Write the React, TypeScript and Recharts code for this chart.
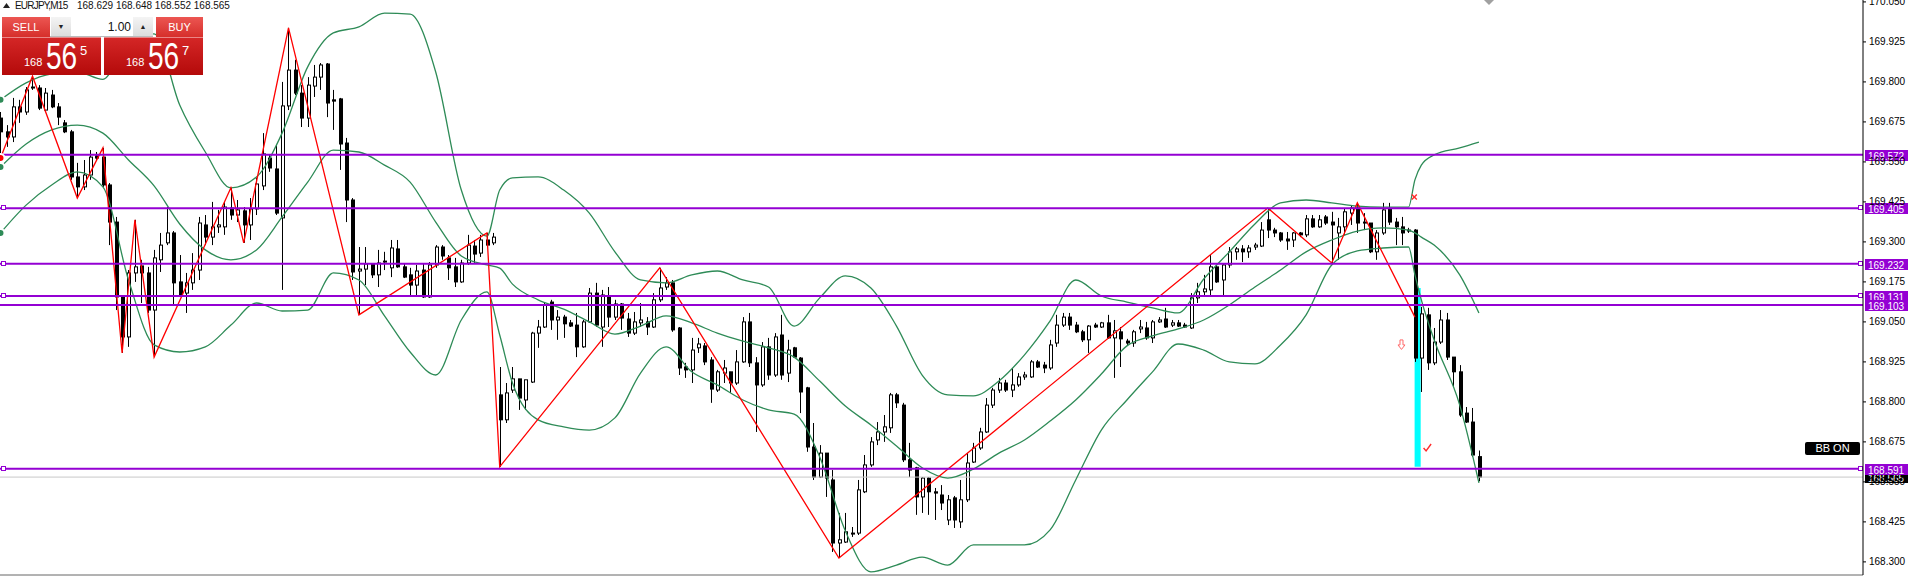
import React from 'react';
import {
  ComposedChart,
  Bar,
  Line,
  XAxis,
  YAxis,
  ReferenceLine,
  ReferenceArea,
  ReferenceDot,
} from 'recharts';

// ── EURJPY M15 bars ───────────────────────────────────────────────
const opens = [
  169.687, 169.644, 169.628, 169.722, 169.706, 169.781, 169.781, 169.712, 169.759, 169.722,
  169.672, 169.644, 169.503, 169.472, 169.509, 169.569, 169.565, 169.478, 169.362, 169.128,
  169.003, 169.203, 169.225, 169.203, 169.087, 169.244, 169.297, 169.328, 169.175, 169.14,
  169.172, 169.212, 169.353, 169.315, 169.347, 169.347, 169.406, 169.384, 169.397, 169.353,
  169.403, 169.475, 169.562, 169.528, 169.375, 169.725, 169.837, 169.765, 169.687, 169.787,
  169.815, 169.856, 169.744, 169.747, 169.609, 169.431, 169.209, 169.215, 169.231, 169.197,
  169.237, 169.219, 169.278, 169.222, 169.197, 169.165, 169.212, 169.128, 169.228, 169.284,
  169.25, 169.222, 169.175, 169.234, 169.287, 169.265, 169.306, 169.297, 168.822, 168.744,
  168.837, 168.872, 168.806, 168.862, 169.015, 169.034, 169.112, 169.056, 169.065, 169.047,
  169.04, 168.972, 169.05, 169.14, 169.034, 169.131, 169.065, 169.106, 169.059, 169.015,
  169.047, 169.05, 169.034, 169.119, 169.159, 169.172, 169.031, 168.909, 168.9, 168.969,
  168.975, 168.931, 168.837, 168.89, 168.894, 168.859, 168.925, 169.05, 168.922, 168.853,
  168.972, 168.884, 169.009, 168.89, 168.969, 168.937, 168.844, 168.659, 168.565, 168.64,
  168.556, 168.359, 168.362, 168.39, 168.39, 168.519, 168.603, 168.681, 168.706, 168.719,
  168.822, 168.79, 168.619, 168.594, 168.503, 168.562, 168.519, 168.509, 168.431, 168.5,
  168.425, 168.494, 168.612, 168.656, 168.706, 168.79, 168.837, 168.859, 168.837, 168.853,
  168.878, 168.878, 168.925, 168.915, 168.906, 168.984, 169.04, 169.065, 169.04, 169.019,
  168.994, 169.04, 169.034, 169.047, 169.0, 169.019, 168.99, 168.984, 169.028, 169.031,
  169.0, 169.05, 169.059, 169.04, 169.047, 169.04, 169.031, 169.125, 169.144, 169.15,
  169.222, 169.181, 169.228, 169.269, 169.278, 169.269, 169.284, 169.287, 169.369, 169.337,
  169.328, 169.309, 169.306, 169.328, 169.322, 169.372, 169.347, 169.378, 169.362, 169.328,
  169.347, 169.39, 169.406, 169.362, 169.359, 169.269, 169.328, 169.403, 169.362, 169.347,
  169.337, 169.337, 168.937, 169.072, 168.922, 168.987, 169.056, 168.94, 168.894, 168.765,
  168.737, 168.629,
];
const highs = [
  169.706, 169.665, 169.75, 169.744, 169.784, 169.818, 169.79, 169.781, 169.775, 169.734,
  169.681, 169.65, 169.547, 169.556, 169.587, 169.581, 169.594, 169.484, 169.378, 169.134,
  169.212, 169.369, 169.244, 169.222, 169.275, 169.328, 169.409, 169.334, 169.259, 169.203,
  169.265, 169.378, 169.384, 169.425, 169.4, 169.425, 169.469, 169.431, 169.409, 169.437,
  169.5, 169.64, 169.572, 169.603, 169.8, 169.969, 169.869, 169.79, 169.815, 169.853,
  169.859, 169.859, 169.775, 169.75, 169.625, 169.437, 169.284, 169.284, 169.234, 169.275,
  169.269, 169.306, 169.306, 169.234, 169.219, 169.228, 169.234, 169.237, 169.29, 169.29,
  169.259, 169.25, 169.244, 169.322, 169.306, 169.322, 169.328, 169.328, 168.909, 168.859,
  168.909, 168.872, 168.869, 169.019, 169.056, 169.112, 169.119, 169.087, 169.072, 169.056,
  169.078, 169.056, 169.156, 169.172, 169.15, 169.159, 169.119, 169.109, 169.078, 169.081,
  169.109, 169.065, 169.14, 169.219, 169.19, 169.181, 169.034, 168.922, 169.0, 169.0,
  168.984, 168.94, 168.9, 168.931, 168.894, 168.962, 169.065, 169.078, 168.94, 168.987,
  169.0, 169.015, 169.072, 168.994, 168.972, 168.94, 168.847, 168.734, 168.665, 168.64,
  168.587, 168.453, 168.453, 168.409, 168.556, 168.634, 168.69, 168.737, 168.759, 168.828,
  168.828, 168.797, 168.672, 168.597, 168.565, 168.565, 168.531, 168.54, 168.509, 168.506,
  168.556, 168.64, 168.672, 168.719, 168.812, 168.844, 168.875, 168.869, 168.906, 168.89,
  168.894, 168.931, 168.931, 168.925, 168.994, 169.072, 169.078, 169.078, 169.05, 169.025,
  169.04, 169.047, 169.05, 169.072, 169.056, 169.034, 168.997, 169.025, 169.056, 169.05,
  169.056, 169.065, 169.094, 169.056, 169.056, 169.047, 169.14, 169.172, 169.197, 169.259,
  169.228, 169.234, 169.284, 169.284, 169.29, 169.29, 169.297, 169.362, 169.406, 169.344,
  169.331, 169.331, 169.331, 169.331, 169.384, 169.384, 169.384, 169.384, 169.394, 169.375,
  169.406, 169.415, 169.422, 169.39, 169.359, 169.337, 169.422, 169.422, 169.375, 169.378,
  169.344, 169.34, 169.097, 169.094, 169.031, 169.087, 169.078, 168.94, 168.915, 168.784,
  168.781, 168.648,
];
const lows = [
  169.562, 169.597, 169.612, 169.672, 169.697, 169.775, 169.712, 169.706, 169.718, 169.665,
  169.64, 169.494, 169.437, 169.462, 169.494, 169.556, 169.472, 169.29, 169.087, 168.953,
  168.972, 169.175, 169.109, 169.078, 168.94, 169.206, 169.29, 169.103, 169.128, 169.078,
  169.15, 169.181, 169.29, 169.29, 169.328, 169.322, 169.369, 169.362, 169.297, 169.306,
  169.384, 169.462, 169.519, 169.384, 169.15, 169.712, 169.759, 169.659, 169.659, 169.753,
  169.775, 169.69, 169.65, 169.525, 169.362, 169.181, 169.072, 169.165, 169.187, 169.159,
  169.212, 169.19, 169.219, 169.187, 169.128, 169.134, 169.125, 169.125, 169.219, 169.244,
  169.181, 169.159, 169.172, 169.228, 169.234, 169.253, 169.284, 169.29, 168.597, 168.734,
  168.828, 168.775, 168.775, 168.859, 168.969, 169.031, 169.025, 168.994, 169.0, 169.034,
  168.94, 168.969, 169.047, 169.034, 168.972, 169.034, 169.056, 169.025, 169.003, 169.009,
  169.034, 169.009, 169.031, 169.112, 169.15, 169.019, 168.884, 168.875, 168.859, 168.953,
  168.915, 168.797, 168.831, 168.859, 168.828, 168.853, 168.922, 168.909, 168.706, 168.847,
  168.869, 168.878, 168.869, 168.862, 168.937, 168.765, 168.644, 168.556, 168.562, 168.503,
  168.331, 168.312, 168.359, 168.378, 168.384, 168.515, 168.597, 168.665, 168.675, 168.703,
  168.781, 168.612, 168.565, 168.447, 168.453, 168.447, 168.431, 168.462, 168.415, 168.406,
  168.406, 168.487, 168.609, 168.65, 168.703, 168.781, 168.828, 168.831, 168.815, 168.847,
  168.869, 168.875, 168.906, 168.89, 168.9, 168.972, 169.034, 169.025, 169.015, 168.987,
  168.953, 169.031, 169.031, 168.997, 168.875, 168.909, 168.978, 168.972, 169.015, 168.994,
  168.984, 169.047, 169.031, 169.034, 169.034, 169.031, 169.028, 169.109, 169.134, 169.134,
  169.172, 169.128, 169.219, 169.244, 169.237, 169.25, 169.275, 169.284, 169.312, 169.315,
  169.3, 169.275, 169.284, 169.315, 169.315, 169.344, 169.344, 169.353, 169.234, 169.244,
  169.322, 169.353, 169.328, 169.337, 169.265, 169.244, 169.322, 169.353, 169.29, 169.29,
  169.328, 168.925, 168.831, 168.9, 168.915, 168.981, 168.931, 168.847, 168.753, 168.734,
  168.628, 168.552,
];
const closes = [
  169.644, 169.628, 169.722, 169.706, 169.775, 169.784, 169.718, 169.765, 169.722, 169.69,
  169.644, 169.503, 169.472, 169.509, 169.565, 169.562, 169.478, 169.362, 169.128, 169.003,
  169.203, 169.222, 169.203, 169.087, 169.25, 169.29, 169.328, 169.172, 169.134, 169.172,
  169.212, 169.359, 169.315, 169.347, 169.353, 169.409, 169.384, 169.4, 169.353, 169.403,
  169.481, 169.575, 169.531, 169.39, 169.725, 169.837, 169.765, 169.687, 169.79, 169.815,
  169.853, 169.734, 169.74, 169.606, 169.431, 169.206, 169.215, 169.231, 169.197, 169.234,
  169.24, 169.281, 169.222, 169.19, 169.165, 169.209, 169.128, 169.228, 169.284, 169.256,
  169.219, 169.175, 169.234, 169.29, 169.262, 169.306, 169.29, 169.315, 168.744, 168.828,
  168.872, 168.812, 168.869, 169.015, 169.034, 169.103, 169.056, 169.065, 169.044, 169.037,
  168.972, 169.05, 169.14, 169.04, 169.134, 169.065, 169.106, 169.062, 169.015, 169.05,
  169.056, 169.034, 169.119, 169.156, 169.172, 169.025, 168.906, 168.9, 168.962, 168.981,
  168.925, 168.84, 168.894, 168.906, 168.859, 168.925, 169.05, 168.922, 168.853, 168.972,
  168.884, 169.003, 168.884, 168.962, 168.94, 168.831, 168.659, 168.565, 168.64, 168.562,
  168.359, 168.369, 168.394, 168.387, 168.525, 168.603, 168.675, 168.706, 168.722, 168.822,
  168.797, 168.619, 168.587, 168.503, 168.562, 168.519, 168.515, 168.484, 168.494, 168.431,
  168.494, 168.609, 168.656, 168.706, 168.79, 168.837, 168.859, 168.837, 168.853, 168.878,
  168.884, 168.925, 168.909, 168.906, 168.978, 169.04, 169.065, 169.04, 169.019, 168.994,
  169.037, 169.034, 169.047, 169.0, 169.022, 168.997, 168.984, 169.019, 169.034, 169.0,
  169.05, 169.056, 169.034, 169.047, 169.037, 169.034, 169.125, 169.144, 169.153, 169.222,
  169.175, 169.228, 169.269, 169.278, 169.269, 169.281, 169.29, 169.337, 169.337, 169.328,
  169.306, 169.303, 169.328, 169.322, 169.372, 169.347, 169.369, 169.359, 169.353, 169.347,
  169.394, 169.406, 169.359, 169.359, 169.269, 169.328, 169.4, 169.362, 169.347, 169.328,
  169.334, 168.937, 169.075, 168.922, 168.987, 169.056, 168.94, 168.894, 168.759, 168.737,
  168.634, 168.565,
];

// ── Bollinger bands, read at every 4th bar (plus a few extra bars) ──
const bandIdx = [
  0, 4, 8, 12, 16, 20, 24, 28, 32, 36, 40, 44, 48, 52, 56, 60, 64, 68, 72, 76, 78,
  80, 84, 88, 92, 96, 100, 104, 108, 112, 116, 120, 124, 128, 132, 136, 140, 144, 148, 152, 156,
  160, 164, 168, 172, 176, 180, 184, 188, 192, 196, 200, 204, 208, 212, 216, 220,
  221, 222, 224, 228, 231,
];
const upperBand = [
  169.744, 169.797, 169.825, 169.831, 169.808, 169.931, 169.95, 169.728, 169.581, 169.469,
  169.503, 169.64, 169.847, 169.953, 169.972, 170.015, 170.012, 169.831, 169.462, 169.318, 169.462,
  169.5, 169.503, 169.462, 169.39, 169.269, 169.181, 169.172, 169.197, 169.209, 169.181,
  169.159, 169.037, 169.125, 169.194, 169.156, 169.037, 168.884, 168.822, 168.819, 168.865,
  168.947, 169.053, 169.181, 169.131, 169.112, 169.094, 169.078, 169.184, 169.269, 169.356,
  169.422, 169.431, 169.422, 169.412, 169.409, 169.409, 169.494, 169.54, 169.572, 169.594, 169.612,
];
const middleBand = [
  169.534, 169.606, 169.65, 169.665, 169.64, 169.556, 169.475, 169.356, 169.275, 169.244,
  169.275, 169.378, 169.487, 169.587, 169.581, 169.54, 169.487, 169.362, 169.256, 169.228, 169.218,
  169.168, 169.119, 169.09, 169.05, 169.012, 169.037, 169.069, 169.047, 169.015, 168.99,
  168.969, 168.94, 168.865, 168.787, 168.728, 168.662, 168.594, 168.562, 168.59, 168.64,
  168.681, 168.74, 168.806, 168.887, 168.975, 169.006, 169.028, 169.056, 169.103, 169.159,
  169.212, 169.269, 169.306, 169.334, 169.344, 169.337, 169.328, 169.315, 169.29, 169.197, 169.078,
];
const lowerBand = [
  169.328, 169.415, 169.478, 169.519, 169.472, 169.181, 168.978, 168.956, 168.972, 169.04,
  169.109, 169.084, 169.087, 169.203, 169.181, 169.069, 168.956, 168.884, 169.056, 169.144, 169.009,
  168.859, 168.744, 168.722, 168.712, 168.75, 168.89, 168.972, 168.894, 168.853, 168.806,
  168.775, 168.762, 168.628, 168.397, 168.269, 168.29, 168.315, 168.29, 168.353, 168.353,
  168.353, 168.4, 168.556, 168.712, 168.806, 168.894, 168.981, 168.962, 168.925, 168.919,
  168.978, 169.072, 169.228, 169.272, 169.281, 169.284, 169.197, 169.119, 168.994, 168.79, 168.547,
];

// ── ZigZag pivots ──
const zigzagIdx = [0, 5, 12, 16, 19, 21, 24, 36, 38, 45, 56, 76, 78, 103, 131, 198, 208, 212, 221];
const zigzagPrice = [
  169.562, 169.818, 169.437, 169.594, 168.953, 169.369, 168.94, 169.469, 169.297, 169.969,
  169.072, 169.328, 168.597, 169.219, 168.312, 169.406, 169.234, 169.422, 169.065,
];

// ── Horizontal levels and axis ──
const levels = [169.572, 169.405, 169.232, 169.131, 169.103, 168.591];
const levelHandles = [false, true, true, true, false, true];
const bidPrice = 168.565;
const yTicks = [
  170.05, 169.925, 169.8, 169.675, 169.55, 169.425, 169.3, 169.175, 169.05, 168.925, 168.8,
  168.675, 168.55, 168.425, 168.3,
];

const quote = { symbol: 'EURJPY,M15', open: '168.629', high: '168.648', low: '168.552', close: '168.565' };

const data: any[] = opens.map((o, i) => ({
  i,
  o,
  h: highs[i],
  l: lows[i],
  c: closes[i],
  range: [lows[i], highs[i]],
}));
bandIdx.forEach((k, j) => {
  data[k].ub = upperBand[j];
  data[k].mb = middleBand[j];
  data[k].lb = lowerBand[j];
});
zigzagIdx.forEach((k, j) => {
  data[k].zz = zigzagPrice[j];
});

const PURPLE = '#9400D3';
const GREEN = '#2E8B57';
const FONT = '"Liberation Sans", Arial, sans-serif';

function Candle(props: any) {
  const { x, y, width, height, payload } = props;
  if (x == null || !payload) return null;
  const top = Math.min(y, y + height);
  const bot = Math.max(y, y + height);
  const span = payload.h - payload.l;
  const py = (v: number) => (span > 0 ? top + ((payload.h - v) / span) * (bot - top) : top);
  const n = Math.round(x + width / 2);
  const yo = py(payload.o);
  const yc = py(payload.c);
  const bTop = Math.min(yo, yc);
  const bH = Math.max(Math.abs(yc - yo), 1);
  const bull = payload.c > payload.o;
  return (
    <g>
      <line x1={n + 0.5} x2={n + 0.5} y1={top} y2={bot} stroke="#000" strokeWidth={1} />
      {bull ? (
        <rect x={n - 0.5} y={bTop} width={3} height={bH} fill="#fff" stroke="#000" strokeWidth={1} />
      ) : (
        <rect x={n - 1} y={bTop - 0.5} width={4} height={bH + 1} fill="#000" />
      )}
    </g>
  );
}

function priceTag(price: number, bg: string, handles: boolean) {
  return (props: any) => {
    const vb = props.viewBox || {};
    const x0 = vb.x ?? 0;
    const w = vb.width ?? 0;
    const y0 = vb.y ?? 0;
    const right = x0 + w;
    const yy = Math.round(y0);
    return (
      <g>
        {handles && <rect x={1.5} y={yy - 2.5} width={4} height={4} fill="#fff" stroke={bg} />}
        {handles && <rect x={right - 4.5} y={yy - 2.5} width={4} height={4} fill="#fff" stroke={bg} />}
        <rect x={right + 2} y={yy - 5} width={46} height={11} fill={bg} />
        <text x={right + 5} y={yy + 4.5} fill="#fff" fontSize={10} fontFamily={FONT}>
          {price.toFixed(3)}
        </text>
      </g>
    );
  };
}

const redTop = 'linear-gradient(#ec5652, #d62f2b)';
const redBig = 'linear-gradient(#d42626, #b40a0a)';

function PriceBox({ left, digits, sup }: { left: number; digits: string; sup: string }) {
  return (
    <div
      style={{
        position: 'absolute',
        left,
        top: 37,
        width: 99,
        height: 37,
        background: redBig,
        borderTop: '1px solid #ea8686',
        color: '#fff',
        fontFamily: FONT,
        lineHeight: 1,
      }}
    >
      <span style={{ position: 'absolute', left: 22, top: 19, fontSize: 11 }}>168</span>
      <span
        style={{
          position: 'absolute',
          left: 44,
          top: 1,
          fontSize: 36,
          transform: 'scaleX(0.78)',
          transformOrigin: 'left top',
        }}
      >
        {digits}
      </span>
      <span style={{ position: 'absolute', left: 78, top: 6, fontSize: 13 }}>{sup}</span>
    </div>
  );
}

function TradePanel() {
  const btn: React.CSSProperties = {
    position: 'absolute',
    top: 17,
    height: 20,
    background: redTop,
    color: '#fff',
    fontFamily: FONT,
    fontSize: 11,
    display: 'flex',
    alignItems: 'center',
    justifyContent: 'center',
  };
  const arrowBtn: React.CSSProperties = {
    position: 'absolute',
    top: 0,
    width: 20,
    height: 19,
    background: 'linear-gradient(#f4f4f4, #dcdcdc)',
    fontSize: 7,
    display: 'flex',
    alignItems: 'center',
    justifyContent: 'center',
    color: '#222',
  };
  return (
    <>
      <div style={{ ...btn, left: 2, width: 48 }}>SELL</div>
      <div
        style={{
          position: 'absolute',
          left: 50,
          top: 17,
          width: 103,
          height: 19,
          background: '#fff',
          borderBottom: '1px solid #bbb',
          fontFamily: FONT,
        }}
      >
        <div style={{ ...arrowBtn, left: 1 }}>▼</div>
        <div
          style={{
            position: 'absolute',
            left: 22,
            top: 3,
            width: 59,
            textAlign: 'right',
            fontSize: 12,
            color: '#111',
          }}
        >
          1.00
        </div>
        <div style={{ ...arrowBtn, left: 83 }}>▲</div>
      </div>
      <div style={{ ...btn, left: 156, width: 47 }}>BUY</div>
      <PriceBox left={2} digits="56" sup="5" />
      <PriceBox left={104} digits="56" sup="7" />
    </>
  );
}

export default function App() {
  return (
    <div style={{ position: 'absolute', left: 0, top: 0, width: 1908, height: 577, background: '#fff' }}>
      <ComposedChart width={1908} height={577} data={data} margin={{ top: 0, right: 0, bottom: 0, left: 0 }}>
        <XAxis
          type="number"
          dataKey="i"
          domain={[-0.078, 291.01]}
          allowDataOverflow
          tick={false}
          tickLine={false}
          height={2}
          axisLine={{ stroke: '#666' }}
        />
        <YAxis
          orientation="right"
          width={45}
          domain={[168.259, 170.056]}
          allowDataOverflow
          ticks={yTicks}
          interval={0}
          tickSize={3}
          tickMargin={3}
          tickFormatter={(v: number) => v.toFixed(3)}
          tick={{ fontSize: 10, fill: '#000', fontFamily: FONT }}
          axisLine={{ stroke: '#000' }}
          tickLine={{ stroke: '#000' }}
        />
        <ReferenceArea x1={220.95} x2={221.9} y1={168.597} y2={169.156} fill="#00FFFF" fillOpacity={1} stroke="none" />
        <ReferenceLine y={bidPrice} stroke="#c8c8c8" strokeWidth={1} label={priceTag(bidPrice, '#000', false)} />
        <Bar dataKey="range" barSize={4} shape={<Candle />} isAnimationActive={false} />
        <Line dataKey="ub" type="monotone" stroke={GREEN} strokeWidth={1.3} dot={false} connectNulls isAnimationActive={false} />
        <Line dataKey="mb" type="monotone" stroke={GREEN} strokeWidth={1.3} dot={false} connectNulls isAnimationActive={false} />
        <Line dataKey="lb" type="monotone" stroke={GREEN} strokeWidth={1.3} dot={false} connectNulls isAnimationActive={false} />
        <Line dataKey="zz" type="linear" stroke="#ff0000" strokeWidth={1.3} dot={false} connectNulls isAnimationActive={false} />
        {levels.map((lv, k) => (
          <ReferenceLine key={lv} y={lv} stroke={PURPLE} strokeWidth={2} label={priceTag(lv, PURPLE, levelHandles[k])} />
        ))}
        <ReferenceDot
          x={220.9}
          y={169.44}
          r={3}
          shape={(p: any) => (
            <g stroke="#ff2a2a" strokeWidth={1.4}>
              <line x1={p.cx - 2.5} y1={p.cy - 2.5} x2={p.cx + 2.5} y2={p.cy + 2.5} />
              <line x1={p.cx - 2.5} y1={p.cy + 2.5} x2={p.cx + 2.5} y2={p.cy - 2.5} />
            </g>
          )}
        />
        <ReferenceDot
          x={218.9}
          y={168.978}
          r={3}
          shape={(p: any) => (
            <path
              d={`M${p.cx - 1.5},${p.cy - 5} h3 v5 h2 l-3.5,4.5 l-3.5,-4.5 h2 z`}
              fill="#fff"
              stroke="#ff6a6a"
              strokeWidth={1}
            />
          )}
        />
        <ReferenceDot
          x={222.9}
          y={168.656}
          r={3}
          shape={(p: any) => (
            <path
              d={`M${p.cx - 3.5},${p.cy} L${p.cx - 1},${p.cy + 3} L${p.cx + 4},${p.cy - 4}`}
              fill="none"
              stroke="#ff2a2a"
              strokeWidth={1.4}
            />
          )}
        />
      </ComposedChart>

      {/* header line */}
      <svg style={{ position: 'absolute', left: 3, top: 3 }} width={7} height={5}>
        <polygon points="0,5 3.5,0 7,5" fill="#222" />
      </svg>
      <div
        style={{
          position: 'absolute',
          left: 15,
          top: 1,
          fontFamily: FONT,
          fontSize: 10,
          lineHeight: 1,
          color: '#111',
          whiteSpace: 'pre',
        }}
      >
        <span style={{ letterSpacing: '-0.8px' }}>{quote.symbol}</span>
      </div>
      <div
        style={{
          position: 'absolute',
          left: 77,
          top: 1,
          fontFamily: FONT,
          fontSize: 10,
          lineHeight: 1,
          color: '#111',
          whiteSpace: 'pre',
        }}
      >
        {`${quote.open} ${quote.high} ${quote.low} ${quote.close}`}
      </div>

      <TradePanel />

      {/* BB ON badge */}
      <div
        style={{
          position: 'absolute',
          left: 1805,
          top: 442,
          width: 55,
          height: 13,
          background: '#000',
          borderRadius: 2,
          color: '#fff',
          fontFamily: FONT,
          fontSize: 11,
          lineHeight: '13px',
          textAlign: 'center',
        }}
      >
        BB ON
      </div>

      {/* chart shift marker */}
      <svg style={{ position: 'absolute', left: 1484, top: 0 }} width={10} height={5}>
        <polygon points="0,0 10,0 5,5" fill="#a0a0a0" />
      </svg>
    </div>
  );
}
